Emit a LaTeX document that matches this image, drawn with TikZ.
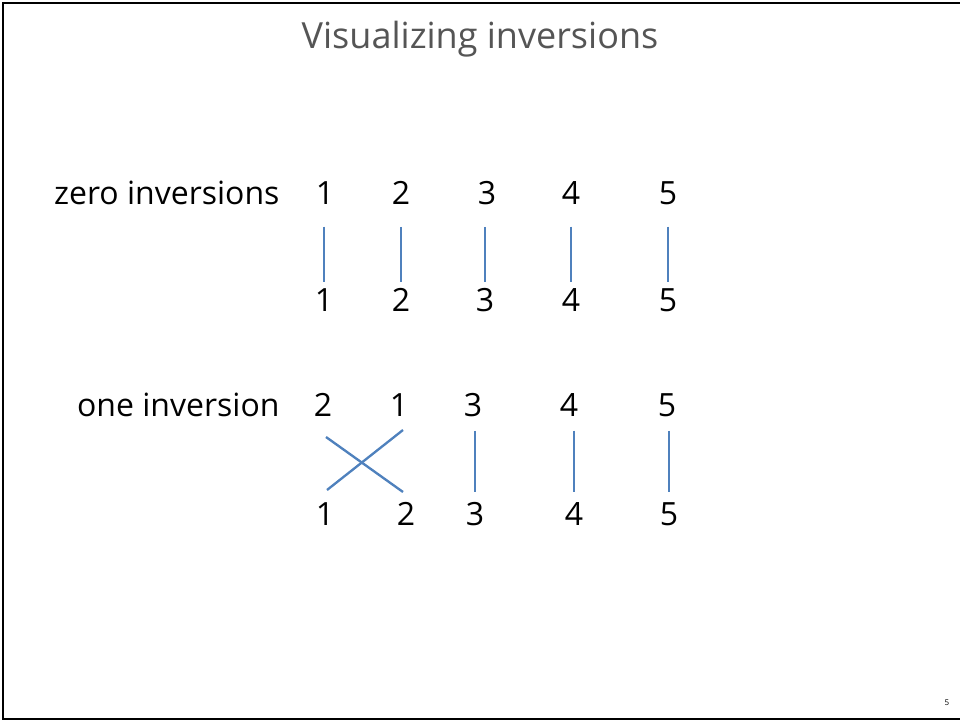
\documentclass[tikz,border=0pt]{standalone}
\usepackage{fontspec}
\setmainfont{Open Sans}
\usetikzlibrary{calc}

\definecolor{wireblue}{RGB}{79,129,189}
\definecolor{titlegray}{RGB}{85,85,85}

\tikzset{every picture/.style={line width=0.75pt}}
\tikzset{
  num/.style={inner sep=0.75pt, font=\fontsize{24}{28}\selectfont},
  rowlabel/.style={anchor=east, inner sep=0.75pt, font=\fontsize{24}{28}\selectfont},
  wire/.style={color=wireblue, line width=1.75pt}
}

\begin{document}
\begin{tikzpicture}[x=0.75pt,y=0.75pt,yscale=-1,xscale=1]
\useasboundingbox (0,0) rectangle (960,721);

%Shape: Rectangle
\draw [line width=1.5pt] (3,3) rectangle (966,719) ;

% Text Node
\node (title) [inner sep=0.75pt, color=titlegray, font=\fontsize{27}{32}\selectfont] at (480,39) {Visualizing inversions};

% Text Node
\node (zlabel) [rowlabel] at (281,193) {zero inversions};
\node (za1) [num] at (325,193) {1};
\node (za2) [num] at (401,193) {2};
\node (za3) [num] at (487,193) {3};
\node (za4) [num] at (571,193) {4};
\node (za5) [num] at (668,193) {5};
\node (zb1) [num] at (324,300) {1};
\node (zb2) [num] at (401,300) {2};
\node (zb3) [num] at (485,300) {3};
\node (zb4) [num] at (571,300) {4};
\node (zb5) [num] at (668,300) {5};

%Straight Lines
\foreach \k in {1,...,5}
  \draw [wire, shorten <=15.5pt, shorten >=3.5pt] (za\k.south -| zb\k) -- (zb\k.north) ;

% Text Node
\node (olabel) [rowlabel] at (281,405) {one inversion};
\node (oa1) [num] at (323,405) {2};
\node (oa2) [num] at (399,405) {1};
\node (oa3) [num] at (473,405) {3};
\node (oa4) [num] at (569,405) {4};
\node (oa5) [num] at (667,405) {5};
\node (ob1) [num] at (325,514) {1};
\node (ob2) [num] at (406,514) {2};
\node (ob3) [num] at (475,514) {3};
\node (ob4) [num] at (574,514) {4};
\node (ob5) [num] at (669,514) {5};

%Straight Lines
\draw [wire] ($(oa1)+(3,32)$) -- ($(ob2)+(-3,-22)$) ;
\draw [wire] ($(oa2)+(4,25)$) -- ($(ob1)+(2,-24)$) ;
\foreach \k in {3,4,5}
  \draw [wire, shorten <=9.5pt, shorten >=6.5pt] (oa\k.south -| ob\k) -- (ob\k.north) ;

% Text Node
\node (pageno) [inner sep=0.75pt, font=\fontsize{6}{7}\selectfont] at (947,703) {5};

\end{tikzpicture}
\end{document}
